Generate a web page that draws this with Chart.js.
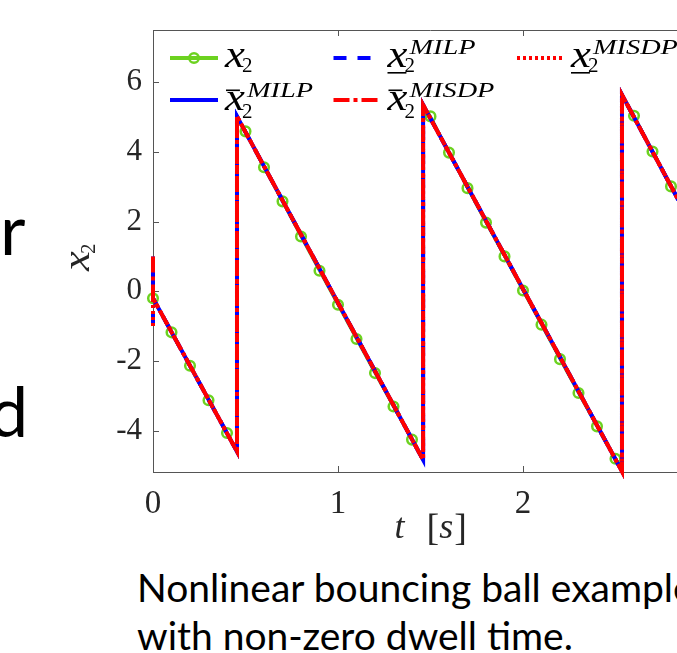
<!DOCTYPE html>
<html>
<head>
<meta charset="utf-8">
<script src="https://cdn.jsdelivr.net/npm/chart.js@4"></script>
<style>
html,body{margin:0;padding:0;background:#fff;overflow:hidden;width:677px;height:653px;}
#wrap{position:absolute;left:0;top:0;width:760px;height:560px;}
.slide{position:absolute;font-family:Lato,"Open Sans",sans-serif;color:#000;white-space:nowrap;}
</style>
</head>
<body>
<div id="wrap"><canvas id="c" width="760" height="560"></canvas></div>
<div class="slide" style="left:0px;top:193px;font-size:70px;line-height:70px;">r</div>
<div class="slide" style="left:-11px;top:375px;font-size:70px;line-height:70px;">d</div>
<div class="slide" style="left:137px;top:563px;font-size:39px;line-height:48px;">Nonlinear bouncing ball example<br>with non-zero dwell time.</div>
<script>
// ---- data ----
const sampleT = [0,0.1,0.2,0.3,0.4,0.5,0.6,0.7,0.8,0.9,1.0,1.1,1.2,1.3,1.4,1.5,1.6,1.7,1.8,1.9,2.0,2.1,2.2,2.3,2.4,2.5,2.6,2.7,2.8];
const x2Samples = [-0.2,-1.18,-2.14,-3.13,-4.07, 4.59,3.56,2.58,1.57,0.59,-0.39,-1.37,-2.35,-3.31,-4.26, 5.02,3.98,2.96,1.97,1.00,0.02,-0.96,-1.95,-2.92,-3.88,-4.81, 5.04,4.01,3.01];
const impactT = [0.454, 1.46, 2.535];
const x2PreImpact = [-4.6, -4.84, -5.17];
const x2PostImpact = [5.02, 5.35, 5.64];

const boundT     = [0, 0, 0.454, 0.454, 1.46, 1.46, 2.535, 2.535, 2.84];
const milpUpper  = [1.0, -0.2, -4.6, 5.02, -4.84, 5.35, -5.17, 5.64, 2.62];
const milpLower  = [-1.0, -0.2, -4.6, 5.02, -4.84, 5.35, -5.17, 5.64, 2.62];
const misdpUpper = [1.0, -0.2, -4.6, 5.02, -4.84, 5.35, -5.17, 5.64, 2.62];
const misdpLower = [-1.0, -0.2, -4.6, 5.02, -4.84, 5.35, -5.17, 5.64, 2.62];

const xTicks = [0, 1, 2];
const yTicks = [-4, -2, 0, 2, 4, 6];
const xRange = [0, 3];
const yRange = [-5.19, 7.5];

// ---- build datasets ----
const x2Traj = sampleT.map((t, i) => ({x: t, y: x2Samples[i], m: true}));
impactT.forEach((t, i) => {
  x2Traj.push({x: t, y: x2PreImpact[i], m: false});
  x2Traj.push({x: t + 1e-6, y: x2PostImpact[i], m: false});
});
x2Traj.sort((a, b) => a.x - b.x);
const pts = (ts, vs) => ts.map((t, i) => ({x: t, y: vs[i]}));

const GREEN = 'rgb(108,210,32)';
const BLUE = '#0000ff';
const RED = '#ff0000';
const SERIF = '"Liberation Serif","Times New Roman",serif';

const datasets = [
  {key:'x2', data: x2Traj, borderColor: GREEN, borderWidth: 3, order: 5,
   pointRadius: c => (c.raw && c.raw.m) ? 4.8 : 0, pointBorderWidth: 2.5,
   pointBorderColor: GREEN, pointBackgroundColor: 'rgba(0,0,0,0)'},
  {key:'milpU', data: pts(boundT, milpUpper), borderColor: BLUE, borderWidth: 4, order: 4, borderDash: []},
  {key:'milpL', data: pts(boundT, milpLower), borderColor: BLUE, borderWidth: 4, order: 3, borderDash: [13, 11]},
  {key:'misdpL', data: pts(boundT, misdpLower), borderColor: RED, borderWidth: 4, order: 2, borderDash: [3, 3]},
  {key:'misdpU', data: pts(boundT, misdpUpper), borderColor: RED, borderWidth: 4, order: 1, borderDash: [16, 4, 4, 4]}
];
datasets.forEach(d => {
  d.fill = false; d.tension = 0; d.clip = 12; d.borderCapStyle = 'butt'; d.borderJoinStyle = 'miter';
  if (d.pointRadius === undefined) d.pointRadius = 0;
  d.pointHoverRadius = 0;
});

// draws italic math x with subscript 2, optional bar and superscript
function mathX(ctx, x, y, o) {
  ctx.save();
  ctx.translate(x, y);
  ctx.fillStyle = o.color || '#000';
  ctx.textBaseline = 'alphabetic';
  ctx.textAlign = 'left';
  ctx.save();
  ctx.scale(1.18, 1);
  ctx.font = 'italic 38px ' + SERIF;
  ctx.fillText('x', 0, 0);
  const w = ctx.measureText('x').width * 1.18;
  ctx.restore();
  if (o.bar === 'under') ctx.fillRect(0, 5, w - 1, 1.6);
  if (o.bar === 'over') ctx.fillRect(1, -20.5, w - 6, 1.6);
  ctx.font = '21px ' + SERIF;
  ctx.fillText('2', w - 3, o.subDy || 5);
  if (o.sup) {
    ctx.save();
    ctx.translate(w + 2, -13);
    ctx.scale(1.35, 1);
    ctx.font = 'italic 21px ' + SERIF;
    ctx.fillText(o.sup, 0, 0);
    ctx.restore();
  }
  ctx.restore();
}

function sampleLine(ctx, ds, x0, x1, y) {
  ctx.save();
  ctx.strokeStyle = ds.borderColor;
  ctx.lineWidth = 4;
  ctx.setLineDash(ds.borderDash || []);
  ctx.lineCap = 'butt';
  ctx.beginPath(); ctx.moveTo(x0, y); ctx.lineTo(x1, y); ctx.stroke();
  ctx.restore();
}

const decor = {
  id: 'decor',
  beforeDatasetsDraw(chart) {
    const {ctx, chartArea: a, scales} = chart;
    ctx.save();
    ctx.strokeStyle = '#555';
    ctx.lineWidth = 1;
    ctx.beginPath();
    ctx.moveTo(a.left, a.top + 0.5); ctx.lineTo(a.right, a.top + 0.5);
    ctx.moveTo(a.right - 0.5, a.top); ctx.lineTo(a.right - 0.5, a.bottom);
    xTicks.forEach(v => {
      const px = Math.round(scales.x.getPixelForValue(v)) + 0.5;
      ctx.moveTo(px, a.bottom); ctx.lineTo(px, a.bottom - 6);
      ctx.moveTo(px, a.top); ctx.lineTo(px, a.top + 6);
    });
    yTicks.forEach(v => {
      const py = Math.round(scales.y.getPixelForValue(v)) + 0.5;
      ctx.moveTo(a.left, py); ctx.lineTo(a.left + 6, py);
      ctx.moveTo(a.right, py); ctx.lineTo(a.right - 6, py);
    });
    ctx.stroke();
    ctx.restore();
  },
  afterDraw(chart) {
    const {ctx, chartArea: a} = chart;
    const ds = chart.data.datasets;
    // legend (no box, MATLAB style)
    const r1 = a.top + 28, r2 = a.top + 70;
    const c1 = a.left + 17, c2 = a.left + 180.5, c3 = a.left + 364;
    const L = 48;
    sampleLine(ctx, ds[0], c1, c1 + L, r1);
    ctx.save();
    ctx.strokeStyle = GREEN; ctx.lineWidth = 2.5;
    ctx.beginPath(); ctx.arc(c1 + L / 2, r1, 4.8, 0, Math.PI * 2); ctx.stroke();
    ctx.restore();
    mathX(ctx, c1 + L + 7, r1 + 9, {});
    sampleLine(ctx, ds[2], c2, c2 + L, r1);
    mathX(ctx, c2 + L + 6, r1 + 9, {bar: 'under', sup: 'MILP'});
    sampleLine(ctx, ds[3], c3, c3 + L, r1);
    mathX(ctx, c3 + L + 6, r1 + 9, {bar: 'under', sup: 'MISDP'});
    sampleLine(ctx, ds[1], c1, c1 + L, r2);
    mathX(ctx, c1 + L + 7, r2 + 10, {bar: 'over', sup: 'MILP', subDy: 7.5});
    sampleLine(ctx, ds[4], c2, c2 + L, r2);
    mathX(ctx, c2 + L + 6, r2 + 10, {bar: 'over', sup: 'MISDP', subDy: 7.5});

    // y axis title (rotated x_2)
    ctx.save();
    ctx.translate(88.5, 271);
    ctx.rotate(-Math.PI / 2);
    mathX(ctx, 0, 0, {color: '#262626', subDy: 6});
    ctx.restore();

    // x axis title  t [s]
    ctx.save();
    ctx.fillStyle = '#262626';
    ctx.textBaseline = 'alphabetic';
    const base = 538;
    let x = (a.left + 708) / 2 - 36;
    ctx.font = 'italic 36px ' + SERIF;
    ctx.fillText('t', x, base);
    x += 32;
    ctx.font = '38px ' + SERIF;
    ctx.fillText('[', x, base + 2);
    x += ctx.measureText('[').width;
    ctx.font = 'italic 36px ' + SERIF;
    ctx.fillText('s', x, base);
    x += ctx.measureText('s').width + 1;
    ctx.font = '38px ' + SERIF;
    ctx.fillText(']', x, base + 2);
    ctx.restore();
  }
};

new Chart(document.getElementById('c'), {
  type: 'line',
  data: {datasets},
  options: {
    responsive: false,
    animation: false,
    events: [],
    layout: {padding: {top: 30, right: 52, left: 0, bottom: 0}},
    plugins: {legend: {display: false}, tooltip: {enabled: false}},
    scales: {
      x: {
        type: 'linear', min: xRange[0], max: xRange[1],
        afterBuildTicks: s => { s.ticks = xTicks.map(v => ({value: v})); },
        afterFit: s => { s.height = 88; },
        grid: {display: false, drawTicks: false},
        border: {display: true, color: '#555', width: 1},
        ticks: {color: '#262626', font: {family: SERIF, size: 33}, padding: 13, maxRotation: 0, autoSkip: false}
      },
      y: {
        type: 'linear', min: yRange[0], max: yRange[1],
        afterBuildTicks: s => { s.ticks = yTicks.map(v => ({value: v})); },
        afterFit: s => { s.width = 153; },
        grid: {display: false, drawTicks: false},
        border: {display: true, color: '#555', width: 1},
        ticks: {color: '#262626', font: {family: SERIF, size: 31}, padding: 11, autoSkip: false}
      }
    }
  },
  plugins: [decor]
});
</script>
</body>
</html>
